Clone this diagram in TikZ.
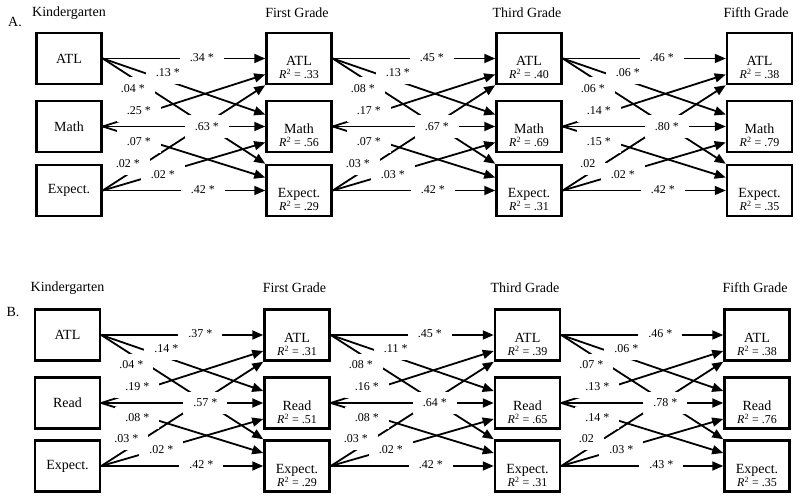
\documentclass[tikz,border=0pt]{standalone}
\usepackage{fontspec}
\setmainfont{Liberation Serif}
\usepackage{tikz}
\usetikzlibrary{arrows.meta}
\newcommand{\rsq}[1]{{\fontsize{12}{13}\selectfont\textit{R}\textsuperscript{2} = #1}}

\begin{document}
\begin{tikzpicture}[x=1pt,y=-1pt]
\tikzstyle{every node}=[font=\fontsize{14}{13}\selectfont]
\tikzstyle{box}=[draw, line width=2.5pt, minimum width=65pt, minimum height=51pt, inner sep=0pt]
\tikzstyle{grade}=[box, align=center]
\tikzstyle{link}=[line width=1.8pt, -{Triangle[length=11pt,width=9pt]}]
\tikzstyle{coef}=[fill=white, inner xsep=10pt, inner ysep=7pt, font=\fontsize{12}{14}\selectfont]
\useasboundingbox (0,0) rectangle (800,502);

% panel A
\node (A-letter) at (15,22) {A.};
\node (A-k-title) at (69,13) {Kindergarten};
\node (A-g1-title) at (297,13) {First Grade};
\node (A-g3-title) at (527,13) {Third Grade};
\node (A-g5-title) at (756,13) {Fifth Grade};
\node[box] (A-k-atl) at (69,58.5) {ATL};
\node[box] (A-k-mid) at (69,126.5) {Math};
\node[box] (A-k-exp) at (69,190.5) {Expect.};
\node[grade] (A-g1-atl) at (299,58.5) {\rule{0pt}{28pt}ATL\\\rsq{.33}};
\node[grade] (A-g1-mid) at (299,126.5) {\rule{0pt}{28pt}Math\\\rsq{.56}};
\node[grade] (A-g1-exp) at (299,190.5) {\rule{0pt}{28pt}Expect.\\\rsq{.29}};
\node[grade] (A-g3-atl) at (529,58.5) {\rule{0pt}{28pt}ATL\\\rsq{.40}};
\node[grade] (A-g3-mid) at (529,126.5) {\rule{0pt}{28pt}Math\\\rsq{.69}};
\node[grade] (A-g3-exp) at (529,190.5) {\rule{0pt}{28pt}Expect.\\\rsq{.31}};
\node[grade] (A-g5-atl) at (759.5,58.5) {\rule{0pt}{28pt}ATL\\\rsq{.38}};
\node[grade] (A-g5-mid) at (759.5,126.5) {\rule{0pt}{28pt}Math\\\rsq{.79}};
\node[grade] (A-g5-exp) at (759.5,190.5) {\rule{0pt}{28pt}Expect.\\\rsq{.35}};

% panel B
\node (B-letter) at (13,312) {B.};
\node (B-k-title) at (67.5,288) {Kindergarten};
\node (B-g1-title) at (294.5,288) {First Grade};
\node (B-g3-title) at (525,288) {Third Grade};
\node (B-g5-title) at (755,288) {Fifth Grade};
\node[box] (B-k-atl) at (67.5,335) {ATL};
\node[box] (B-k-mid) at (67.5,403) {Read};
\node[box] (B-k-exp) at (67.5,466) {Expect.};
\node[grade] (B-g1-atl) at (297,335) {\rule{0pt}{28pt}ATL\\\rsq{.31}};
\node[grade] (B-g1-mid) at (297,403) {\rule{0pt}{28pt}Read\\\rsq{.51}};
\node[grade] (B-g1-exp) at (297,466) {\rule{0pt}{28pt}Expect.\\\rsq{.29}};
\node[grade] (B-g3-atl) at (527.5,335) {\rule{0pt}{28pt}ATL\\\rsq{.39}};
\node[grade] (B-g3-mid) at (527.5,403) {\rule{0pt}{28pt}Read\\\rsq{.65}};
\node[grade] (B-g3-exp) at (527.5,466) {\rule{0pt}{28pt}Expect.\\\rsq{.31}};
\node[grade] (B-g5-atl) at (757,335) {\rule{0pt}{28pt}ATL\\\rsq{.38}};
\node[grade] (B-g5-mid) at (757,403) {\rule{0pt}{28pt}Read\\\rsq{.76}};
\node[grade] (B-g5-exp) at (757,466) {\rule{0pt}{28pt}Expect.\\\rsq{.35}};

% paths between waves
\foreach \p in {A,B}
  \foreach \s/\t in {k/g1, g1/g3, g3/g5} {
    \draw[link] (\p-\s-atl.east) -- (\p-\t-atl.west);
    \draw[link] (\p-\s-atl.east) -- ([yshift=12pt]\p-\t-mid.west);
    \draw[link] (\p-\s-atl.east) -- (\p-\t-exp.north west);
    \draw[link] (\p-\s-mid.east) -- ([yshift=-16pt]\p-\t-atl.west);
    \draw[link] (\p-\s-mid.east) -- (\p-\t-mid.west);
    \draw[link] (\p-\s-mid.east) -- ([yshift=13pt]\p-\t-exp.west);
    \draw[link] (\p-\s-exp.east) -- (\p-\t-atl.south west);
    \draw[link] (\p-\s-exp.east) -- ([yshift=-16pt]\p-\t-mid.west);
    \draw[link] (\p-\s-exp.east) -- (\p-\t-exp.west);
  }

% coefficients
\foreach \p/\s/\aa/\am/\ae/\ma/\mm/\me/\ea/\em/\ee in {
  A/k/.34 */.13 */.04 */.25 */.63 */.07 */.02 */.02 */.42 *,
  A/g1/.45 */.13 */.08 */.17 */.67 */.07 */.03 */.03 */.42 *,
  A/g3/.46 */.06 */.06 */.14 */.80 */.15 */.02/.02 */.42 *,
  B/k/.37 */.14 */.04 */.19 */.57 */.08 */.03 */.02 */.42 *,
  B/g1/.45 */.11 */.08 */.16 */.64 */.08 */.03 */.02 */.42 *,
  B/g3/.46 */.06 */.07 */.13 */.78 */.14 */.02/.03 */.43 *} {
    \node[coef] (\p-\s-aa) at ([xshift=99pt,yshift=1pt]\p-\s-atl.east) {\aa};
    \node[coef] (\p-\s-am) at ([xshift=65pt,yshift=-14pt]\p-\s-atl.east) {\am};
    \node[coef] (\p-\s-ae) at ([xshift=30pt,yshift=-30pt]\p-\s-atl.east) {\ae};
    \node[coef] (\p-\s-ma) at ([xshift=36pt,yshift=16pt]\p-\s-mid.east) {\ma};
    \node[coef] (\p-\s-mm) at ([xshift=104pt]\p-\s-mid.east) {\mm};
    \node[coef] (\p-\s-me) at ([xshift=36pt,yshift=-15pt]\p-\s-mid.east) {\me};
    \node[coef] (\p-\s-ea) at ([xshift=25pt,yshift=27pt]\p-\s-exp.east) {\ea};
    \node[coef] (\p-\s-em) at ([xshift=60pt,yshift=16pt]\p-\s-exp.east) {\em};
    \node[coef] (\p-\s-ee) at ([xshift=100pt,yshift=1pt]\p-\s-exp.east) {\ee};
  }
\end{tikzpicture}
\end{document}
